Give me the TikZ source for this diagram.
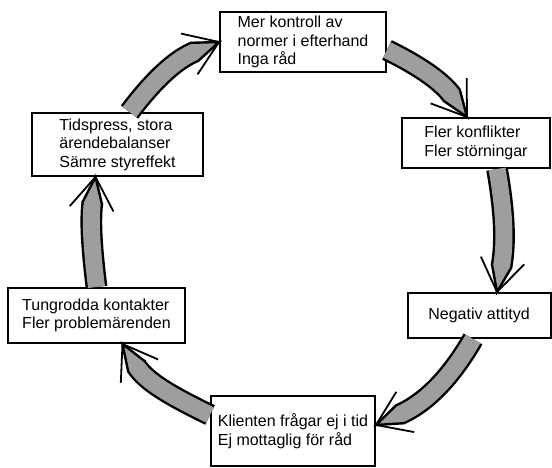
\documentclass[tikz,border=0pt]{standalone}
\usepackage{fontspec}
\setmainfont{Liberation Sans}
\usetikzlibrary{decorations.markings}

\begin{document}
\begin{tikzpicture}[x=1pt,y=1pt,
stage/.style={draw=black,rectangle,line width=2pt,fill=white,inner sep=0pt,align=left,font=\fontsize{16}{18.5}\selectfont},
flow/.style={draw=black,line width=2.4pt,double=black!38,double distance=17pt,shorten >=26pt,
  postaction={decorate,decoration={markings,mark=at position 1 with {
    \filldraw[fill=black!38,draw=black,line width=2.4pt,line join=miter,shorten >=0pt] (-27pt,10pt) -- (0,0) -- (-27pt,-10pt);
    \draw[black,line width=1.8pt,shorten >=0pt] (-32pt,22pt) -- (0,0) -- (-32pt,-22pt);}}}}]
	\useasboundingbox (0,0) rectangle (552,467);
	\node[stage,minimum width=166pt,minimum height=60pt] at (303,425) (c1) {Mer kontroll av\\normer i efterhand\\Inga råd};
	\node[stage,minimum width=148pt,minimum height=50pt] at (476,324) (c2) {Fler konflikter\\Fler störningar};
	\node[stage,minimum width=143pt,minimum height=45pt] at (479,151.5) (c3) {Negativ attityd};
	\node[stage,minimum width=164pt,minimum height=70pt] at (293,36) (c4) {Klienten frågar ej i tid\\Ej mottaglig för råd};
	\node[stage,minimum width=177pt,minimum height=55pt] at (96.5,151.5) (c5) {Tungrodda kontakter\\Fler problemärenden};
	\node[stage,minimum width=171pt,minimum height=63pt] at (117.5,322.5) (c6) {Tidspress, stora\\ärendebalanser\\Sämre styreffekt};
	
	\draw[flow] ([yshift=-8pt]c1.east) to[out=-26,in=125] ([xshift=-9pt]c2.north);
	\draw[flow] ([xshift=21pt]c2.south) to[out=-80,in=80] ([xshift=18pt]c3.north);
	\draw[flow] ([xshift=-6pt]c3.south) to[out=-120,in=24] ([yshift=6pt]c4.east);
	\draw[flow] ([yshift=16pt]c4.west) to[out=154,in=-58] ([xshift=26pt]c5.south);
	\draw[flow] (c5.north) to[out=97,in=-97] ([xshift=-22pt]c6.south);
	\draw[flow] ([xshift=12pt]c6.north) to[out=53,in=-158] (c1.west);
\end{tikzpicture}
\end{document}
